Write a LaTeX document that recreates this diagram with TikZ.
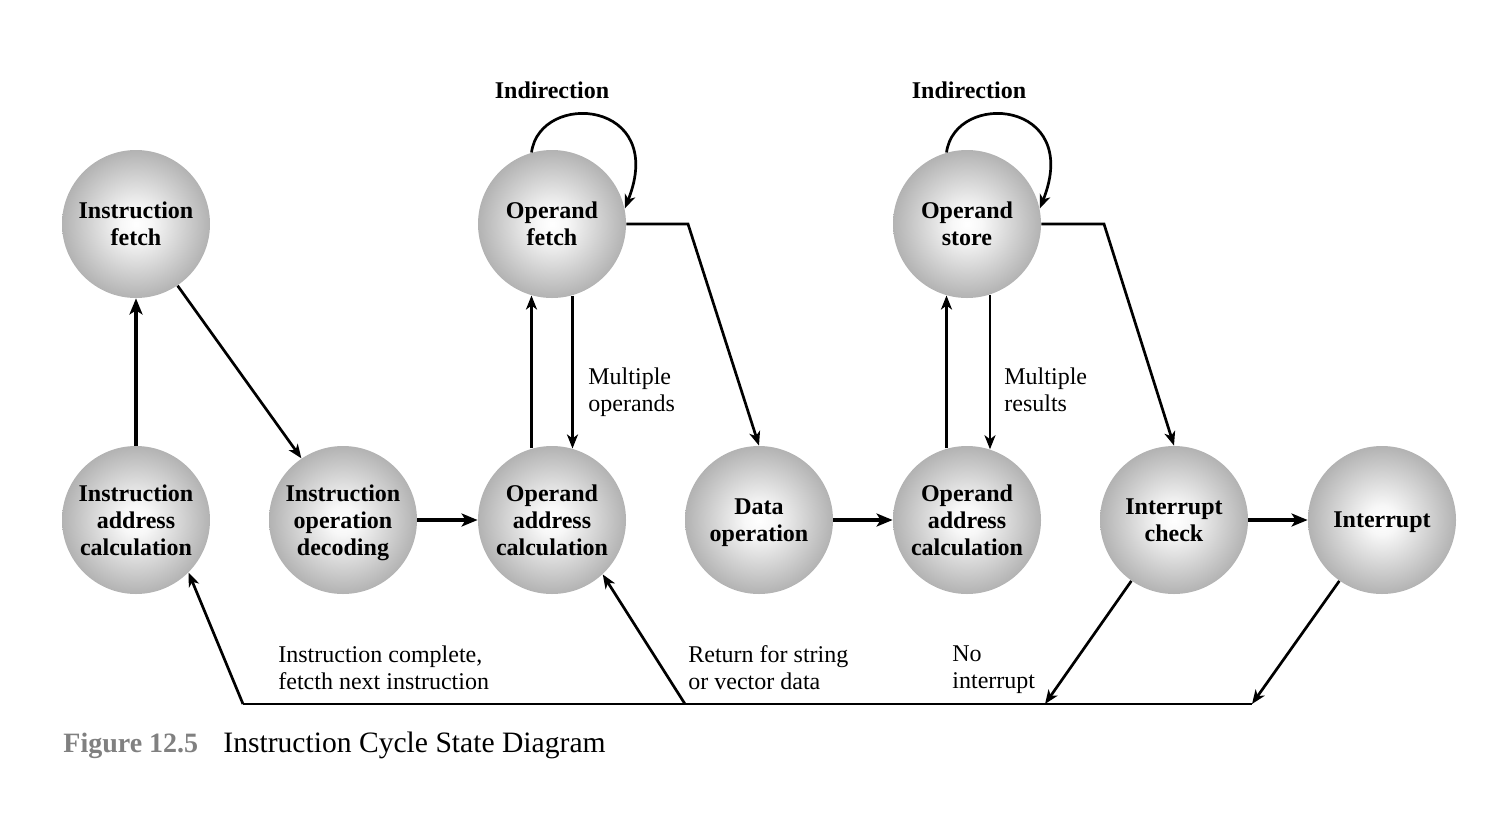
\documentclass[tikz,border=0pt]{standalone}
\usepackage{fontspec}
\setmainfont{Liberation Serif}
\usetikzlibrary{arrows.meta,calc}
\pgfdeclareradialshading{sphere}{\pgfpoint{0bp}{0bp}}{color(0bp)=(white); color(5bp)=(white!97!black); color(25bp)=(black!30); color(50bp)=(black!50)}
\newcommand\nodesc[1]{\raisebox{0pt}[\height][0pt]{#1}}
\tikzset{
  state/.style={circle, minimum size=74pt, inner sep=0pt, shading=sphere,
    align=center, font=\bfseries\fontsize{12}{13.5}\selectfont},
  thin/.style={line width=1.35pt, -{Stealth[length=7pt,width=5.5pt,inset=2pt]}},
  plain/.style={line width=1.35pt},
  thick arrow/.style={line width=2.4pt, -{Stealth[length=8pt,width=6.5pt,inset=2pt]}},
  lbl/.style={anchor=north west, inner sep=0pt, align=left, font=\fontsize{12}{13.5}\selectfont},
  head/.style={font=\bfseries\fontsize{12}{13.5}\selectfont, inner sep=0pt}
}
\begin{document}
\begin{tikzpicture}[x=0.5pt, y=-0.5pt]
\useasboundingbox (0,0) rectangle (1510,815);
% states
\node[state] (IF)   at (136,224) {Instruction\\fetch};
\node[state] (IAC)  at (136,520) {Instruction\\address\\calculation};
\node[state] (IOD)  at (343,520) {Instruction\\operation\\\nodesc{decoding}};
\node[state] (OF)   at (552,224) {Operand\\fetch};
\node[state] (OAC1) at (552,520) {Operand\\address\\calculation};
\node[state] (DO)   at (759,520) {Data\\\nodesc{operation}};
\node[state] (OS)   at (967,224) {Operand\\store};
\node[state] (OAC2) at (967,520) {Operand\\address\\calculation};
\node[state] (IC)   at (1174,520) {Interrupt\\check};
\node[state] (INT)  at (1382,520) {\nodesc{Interrupt}};
% headings
\node[head] (ind1) at (552,90) {Indirection};
\node[head] (ind2) at (969,90) {Indirection};
% thick arrows
\draw[thick arrow] (IAC.north) -- (IF.south);
\draw[thick arrow] (IOD.east) -- (OAC1.west);
\draw[thick arrow] (DO.east) -- (OAC2.west);
\draw[thick arrow] (IC.east) -- (INT.west);
% fetch to decode
\draw[thin] (IF.-56) -- (IOD.124);
% operand fetch pair
\draw[thin] (OAC1.106) -- (OF.-106);
\draw[thin] (OF.-74) -- (OAC1.74);
\node[lbl] (mo) at (588,367) {Multiple\\operands};
% operand store pair
\draw[thin] (OAC2.106) -- (OS.-106);
\draw[thin] (OS.-72) -- (OAC2.72);
\node[lbl] (mr) at (1004,367) {Multiple\\results};
% self loops
\draw[thin] (OF.106) .. controls (540,90) and (668,100) .. (OF.12);
\draw[thin] (OS.106) .. controls (955,90) and (1083,100) .. (OS.12);
% to data operation / interrupt check
\coordinate (k1) at (688,224);
\coordinate (k2) at (1104,224);
\draw[thin] (OF.east) -- (k1) -- (DO.north);
\draw[thin] (OS.east) -- (k2) -- (IC.north);
% bottom return line
\coordinate (bL) at (243,704);
\coordinate (bM) at (685,704);
\coordinate (bN) at (1045,704);
\coordinate (bR) at (1252,704);
\draw[plain] (bR) -- (bL);
\draw[thin] (bL) -- (IAC.-45);
\draw[thin] (bM) -- (OAC1.-47);
\draw[thin] (IC.-125) -- (bN);
\draw[thin] (INT.-125) -- (bR);
% labels
\node[lbl] (l1) at (278,645) {Instruction complete,\\fetcth next instruction};
\node[lbl] (l2) at (688,645) {Return for string\\or vector data};
\node[lbl] (l3) at (952,645) {No\\interrupt};
% caption
\node[anchor=base west, inner sep=0pt, text=black!50, font=\bfseries\fontsize{14}{16}\selectfont] (fig) at (63,752) {Figure 12.5};
\node[anchor=base west, inner sep=0pt, font=\fontsize{14.8}{16}\selectfont] (cap) at (223,752) {Instruction Cycle State Diagram};
\end{tikzpicture}
\end{document}
